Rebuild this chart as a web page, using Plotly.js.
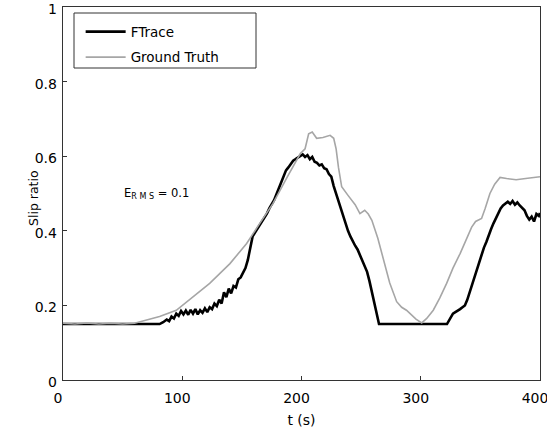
<!DOCTYPE html>
<html>
<head>
<meta charset="utf-8">
<script src="https://cdn.plot.ly/plotly-3.0.1.min.js"></script>
<style>html,body{margin:0;padding:0;background:#fff;}#chart{width:547px;height:433px;}</style>
</head>
<body>
<div id="chart"></div>
<script>
// FTrace estimate (black)
const ftraceT = [0,81,84,87,89,91,93,95,97,99,101,103,105,107,109,111,113,115,117,119,121,123,125,127,129,131,133,135,137,139,141,143,145,147,149,151,153,155,157,159,161,163,165,167,169,171,173,175,177,179,181,183,185,187,189,191,193,195,197,199,201,203,205,207,209,211,213,215,217,219,221,223,225,227,229,231,233,235,237,239,241,243,245,247,249,251,253,255,257,259,261,263,265,322,325,327,329,331,333,335,337,339,341,343,345,347,349,351,353,355,357,359,361,363,365,367,369,371,373,375,377,379,381,383,385,387,389,391,393,395,397,399,400];
const ftraceY = [0.15,0.15,0.155,0.162,0.158,0.170,0.165,0.178,0.172,0.185,0.176,0.186,0.175,0.188,0.178,0.190,0.176,0.187,0.180,0.192,0.182,0.195,0.190,0.205,0.198,0.215,0.205,0.235,0.222,0.245,0.232,0.252,0.248,0.270,0.275,0.290,0.300,0.322,0.355,0.385,0.395,0.405,0.418,0.428,0.438,0.446,0.460,0.470,0.482,0.498,0.515,0.532,0.548,0.562,0.570,0.580,0.588,0.592,0.596,0.600,0.605,0.598,0.603,0.592,0.598,0.585,0.582,0.575,0.578,0.568,0.565,0.552,0.545,0.520,0.500,0.475,0.455,0.440,0.420,0.400,0.385,0.370,0.360,0.350,0.335,0.318,0.305,0.290,0.265,0.235,0.205,0.175,0.15,0.15,0.168,0.178,0.182,0.185,0.190,0.195,0.200,0.215,0.235,0.255,0.275,0.295,0.315,0.340,0.355,0.370,0.390,0.405,0.420,0.435,0.450,0.460,0.468,0.472,0.478,0.472,0.480,0.470,0.476,0.468,0.462,0.455,0.440,0.430,0.438,0.425,0.445,0.440,0.448];
// Ground truth (grey)
const truthT = [0,10,20,30,40,50,60,70,81,95,109,123,140,154,165,176,188,199,203,206,209,212.7,218,224,227,229,231,233.7,239,245,249,253,256,259,264,268.6,274,279.8,284,288,292,296,300.8,305,310.5,316,321.7,327,333,338,342.7,346,351,354,358,362,366.5,372,380,388,397,400];
const truthY = [0.152,0.150,0.153,0.150,0.152,0.150,0.152,0.160,0.170,0.187,0.223,0.259,0.312,0.366,0.420,0.473,0.544,0.607,0.620,0.660,0.665,0.648,0.650,0.656,0.648,0.620,0.570,0.518,0.495,0.470,0.446,0.455,0.445,0.428,0.380,0.321,0.260,0.210,0.195,0.187,0.175,0.163,0.153,0.165,0.187,0.220,0.259,0.300,0.339,0.375,0.410,0.425,0.433,0.460,0.500,0.525,0.543,0.540,0.537,0.540,0.543,0.545];
const xTicks = [0,100,200,300,400];
const yTicks = [0,0.2,0.4,0.6,0.8,1];
const yTickText = ['0','0.2','0.4','0.6','0.8','1'];

const fontFam = 'DejaVu Sans, sans-serif';
const traces = [
  {x: ftraceT, y: ftraceY, type: 'scatter', mode: 'lines', name: 'FTrace', legendgroup: 'a',
   line: {color: '#000000', width: 2.6}},
  {x: truthT, y: truthY, type: 'scatter', mode: 'lines', name: 'Ground Truth', legendgroup: 'b',
   line: {color: '#a6a6a6', width: 1.6}}
];
const axisCommon = {
  showgrid: false, zeroline: false, showline: true, mirror: true,
  linecolor: '#333', linewidth: 1.3, ticks: 'inside', ticklen: 4, tickcolor: '#333',
  ticklabeloverflow: 'allow',
  tickfont: {family: fontFam, size: 14, color: '#000'}
};
const layout = {
  width: 547, height: 433,
  margin: {l: 63, r: 7, t: 7, b: 53},
  paper_bgcolor: '#fff', plot_bgcolor: '#fff',
  showlegend: true,
  legend: {x: 0.037, y: 0.975, xanchor: 'left', yanchor: 'top', borderwidth: 0,
    bgcolor: 'rgba(0,0,0,0)', font: {family: fontFam, size: 13.5, color: '#000'},
    tracegroupgap: 5, itemwidth: 40},
  xaxis: Object.assign({}, axisCommon, {range: [0, 400], tickvals: xTicks,
    ticklabelstandoff: 5, ticklabelshift: -5,
    title: {text: 't (s)', font: {family: fontFam, size: 14, color: '#000'}, standoff: 10}}),
  yaxis: Object.assign({}, axisCommon, {range: [0, 1], tickvals: yTicks, ticktext: yTickText,
    ticklabelstandoff: 2, ticklabelshift: 2}),
  shapes: [{type: 'rect', xref: 'paper', yref: 'paper',
    x0: (74 - 63) / 477, x1: (256 - 63) / 477, y0: (380 - 68) / 373, y1: (380 - 13) / 373,
    line: {color: '#333', width: 1}, fillcolor: 'rgba(0,0,0,0)'}],
  annotations: [{
    x: 49.5, y: 0.5, xref: 'x', yref: 'y', xanchor: 'left', yanchor: 'middle', showarrow: false,
    text: 'E<sub>R M S</sub> = 0.1', font: {family: fontFam, size: 11.5, color: '#000'}
  }, {
    x: (33 - 63) / 477, y: (380 - 198) / 373, xref: 'paper', yref: 'paper',
    xanchor: 'center', yanchor: 'middle', showarrow: false, textangle: -90,
    text: 'Slip ratio', font: {family: fontFam, size: 12.5, color: '#000'}
  }]
};
Plotly.newPlot('chart', traces, layout, {staticPlot: true, displayModeBar: false});
</script>
</body>
</html>
